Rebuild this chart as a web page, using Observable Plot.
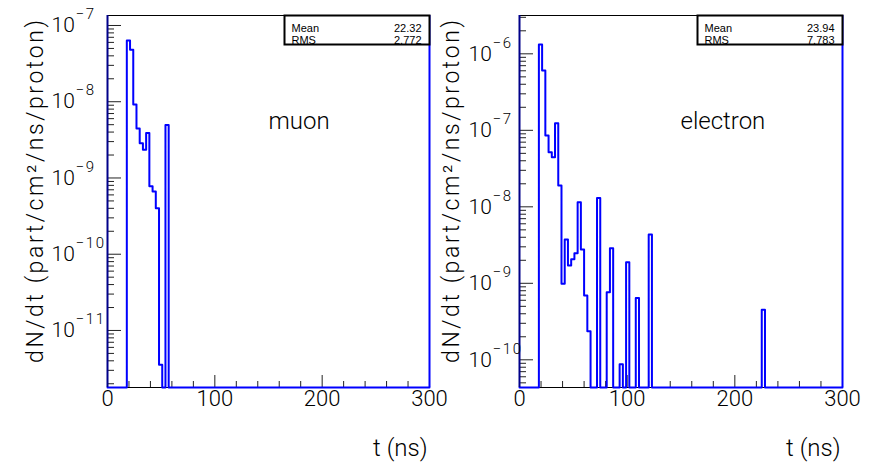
<!DOCTYPE html>
<html><head><meta charset="utf-8">
<script src="https://cdn.jsdelivr.net/npm/d3@7"></script>
<script src="https://cdn.jsdelivr.net/npm/@observablehq/plot@0.6"></script>
<style>
body{margin:0;background:#fff;}
#wrap{position:relative;width:877px;height:464px;overflow:hidden;background:#fff;}
#wrap svg{position:absolute;top:0;}
</style></head><body><div id="wrap"></div>
<script>
// ---- data ----
const binWidth = 3;          // ns per bin
const tMax = 300;
const muonT = [18, 21, 24, 27, 30, 33, 36, 39, 42, 45, 48, 54];
const muonV = [6.36e-8, 4.80e-8, 9.2e-9, 4.46e-9, 2.86e-9, 2.34e-9, 3.89e-9, 7.8e-10, 6.65e-10, 4.02e-10, 3.55e-12, 4.95e-9];
const electronT = [18, 21, 24, 27, 30, 33, 36, 39, 42, 45, 48, 51, 54, 57, 60, 63, 72, 81, 84, 93, 99, 108, 120, 225];
const electronV = [1.32e-6, 6.05e-7, 8.55e-8, 5.18e-8, 4.45e-8, 1.24e-7, 1.90e-8, 9.85e-10, 3.74e-9, 1.71e-9, 2.07e-9, 2.48e-9, 1.15e-8, 2.77e-9, 6.93e-10, 2.37e-10, 1.30e-8, 7.66e-10, 2.88e-9, 8.75e-11, 1.89e-9, 6.43e-10, 4.35e-9, 4.51e-10];
const xTicks = [0, 100, 200, 300];
const xMinorStep = 20;
const names = ["muon", "electron"];
const statMean = ["22.32", "23.94"];
const statRms = ["2.772", "7.783"];
const muonDecades = [-11, -10, -9, -8, -7];
const electronDecades = [-10, -9, -8, -7, -6];
const muonLogDomain = [-11.748, -6.869];
const electronLogDomain = [-10.362, -5.499];
const yLabel = "dN/dt (part/cm\u00B2/ns/proton)";
const xLabel = "t (ns)";

const BLUE = "#0000ff";
const FONT = "'Liberation Sans', Arial, Helvetica, sans-serif";
const THIN = "Roboto, 'Liberation Sans', Arial, sans-serif";

function histo(T, V, ymin) {
  const m = new Map(T.map((t, i) => [t, V[i]]));
  const pts = [];
  for (let t = 0; t < tMax; t += binWidth) pts.push({t, v: m.has(t) ? m.get(t) : ymin});
  pts.push({t: tMax, v: pts[pts.length - 1].v});
  return pts;
}

function panel({T, V, logDomain, decades, name, mean, rms, width, marginLeft, marginRight, tickDx, yLabelDx}) {
  const height = 464, marginTop = 15, marginBottom = 77;
  const frameW = width - marginLeft - marginRight;
  const frameH = height - marginTop - marginBottom;
  const domain = [10 ** logDomain[0], 10 ** logDomain[1]];
  const pts = histo(T, V, domain[0]);
  const minor = [];
  for (let k = Math.floor(logDomain[0]); k <= Math.ceil(logDomain[1]); k++)
    for (let m = 2; m <= 9; m++) {
      const v = m * 10 ** k;
      if (v >= domain[0] && v <= domain[1]) minor.push(v);
    }
  const major = decades.map(d => 10 ** d);
  const xMinor = d3.range(xTicks[0], xTicks[xTicks.length - 1], xMinorStep).filter(d => !xTicks.includes(d));
  const fmt = d => "10^" + String(d).replace("-", "\u2212");
  const big = {fontFamily: THIN, fontWeight: 300};
  return Plot.plot({
    width, height, marginLeft, marginRight, marginTop, marginBottom,
    style: {fontFamily: FONT, background: "transparent", overflow: "visible", color: "black"},
    x: {domain: [xTicks[0], xTicks[xTicks.length - 1]], axis: null},
    y: {type: "log", domain, axis: null},
    marks: [
      Plot.frame({stroke: "black", strokeWidth: 1}),
      Plot.tickY(minor, {y: d => d, insetRight: frameW - 7, stroke: "#222"}),
      Plot.tickY(major, {y: d => d, insetRight: frameW - 14, stroke: "#222"}),
      Plot.tickX(xMinor, {x: d => d, insetTop: frameH - 6, stroke: "#222"}),
      Plot.tickX(xTicks, {x: d => d, insetTop: frameH - 12, stroke: "#222"}),
      Plot.line(pts, {x: "t", y: "v", curve: "step-after", stroke: BLUE, strokeWidth: 2}),
      Plot.ruleX([xTicks[0]], {stroke: "#00008a", strokeWidth: 2}),
      Plot.ruleX([xTicks[xTicks.length - 1]], {stroke: BLUE, strokeWidth: 2}),
      // stats box
      Plot.frame({insetLeft: frameW - 145, insetBottom: frameH - 29, fill: "white", stroke: "black", strokeWidth: 2}),
      Plot.text([0], {frameAnchor: "top-right", text: () => "Mean", textAnchor: "start", dx: -138, dy: 8.5, fontSize: 11}),
      Plot.text([0], {frameAnchor: "top-right", text: () => "RMS", textAnchor: "start", dx: -138, dy: 21, fontSize: 11}),
      Plot.text([0], {frameAnchor: "top-right", text: () => mean, textAnchor: "end", dx: -8, dy: 8.5, fontSize: 11}),
      Plot.text([0], {frameAnchor: "top-right", text: () => rms, textAnchor: "end", dx: -8, dy: 21, fontSize: 11}),
      // particle name
      Plot.text([name], {frameAnchor: "top-left", text: d => d, textAnchor: "start", lineAnchor: "bottom", dx: 161, dy: 113, fontSize: 24, ...big}),
      // y tick labels
      Plot.text(decades, {y: d => 10 ** d, frameAnchor: "left", text: fmt, textAnchor: "start", dx: tickDx, fontSize: 21, ...big}),
      // x tick labels
      Plot.text(xTicks, {x: d => d, frameAnchor: "bottom", text: d => String(d), lineAnchor: "top", dy: 3, fontSize: 22, ...big}),
      // axis titles
      Plot.text([xLabel], {frameAnchor: "bottom-right", text: d => d, textAnchor: "end", lineAnchor: "bottom", dx: -2, dy: 68, fontSize: 24, ...big}),
      Plot.text([yLabel], {frameAnchor: "top-left", text: d => d, rotate: -90, textAnchor: "end", lineAnchor: "bottom", dx: yLabelDx, dy: 2, fontSize: 23, ...big})
    ]
  });
}

function fixText(svg) {
  svg.querySelectorAll("text").forEach(t => {
    const s = t.textContent;
    const m = /^10\^(.+)$/.exec(s);
    if (m) {
      t.textContent = "10";
      const ts = document.createElementNS("http://www.w3.org/2000/svg", "tspan");
      ts.setAttribute("dy", "-13");
      ts.setAttribute("dx", "1");
      ts.setAttribute("font-size", "15");
      ts.setAttribute("letter-spacing", "1.5");
      ts.textContent = m[1];
      t.appendChild(ts);
    } else if (s === yLabel) {
      t.setAttribute("letter-spacing", "2.6");
    }
  });
}

const wrap = document.getElementById("wrap");
const left = panel({T: muonT, V: muonV, logDomain: muonLogDomain, decades: muonDecades, name: names[0], mean: statMean[0], rms: statRms[0],
  width: 438, marginLeft: 107, marginRight: 9, tickDx: -56, yLabelDx: -65});
const right = panel({T: electronT, V: electronV, logDomain: electronLogDomain, decades: electronDecades, name: names[1], mean: statMean[1], rms: statRms[1],
  width: 439, marginLeft: 81, marginRight: 35, tickDx: -51, yLabelDx: -61});
left.style.left = "0px";
right.style.left = "438px";
fixText(left); fixText(right);
wrap.appendChild(left);
wrap.appendChild(right);
</script>
</body></html>
